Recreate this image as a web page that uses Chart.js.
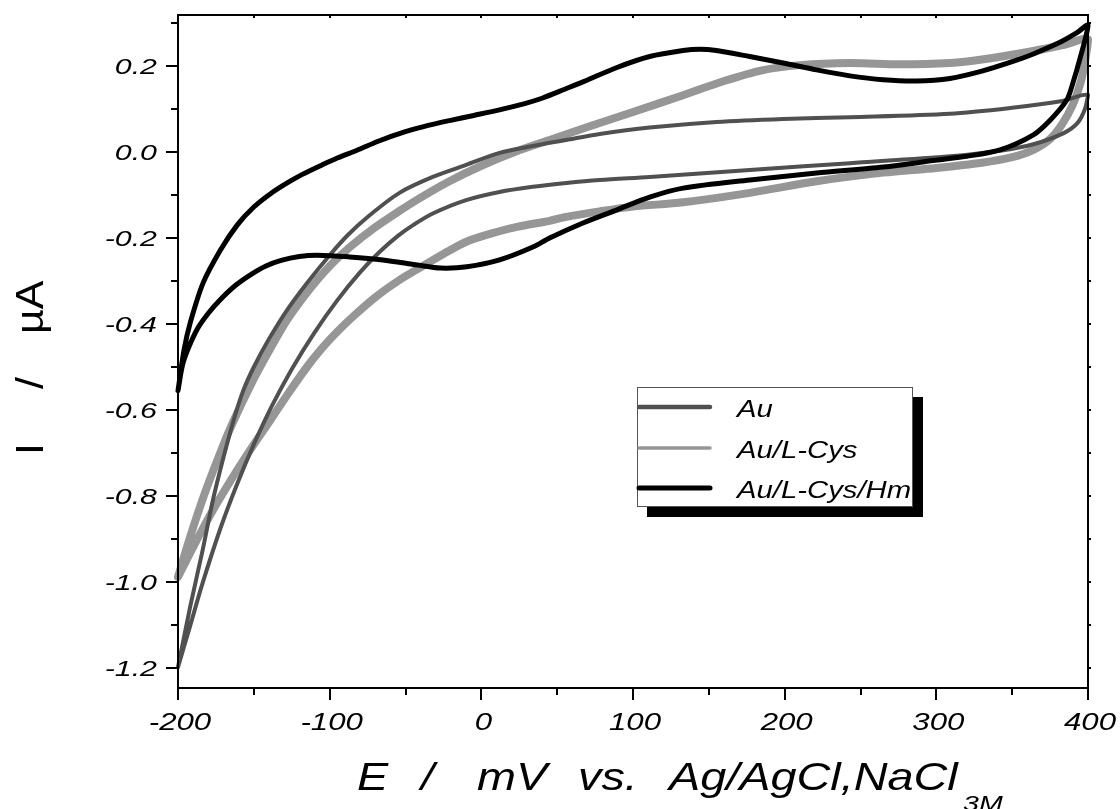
<!DOCTYPE html>
<html>
<head>
<meta charset="utf-8">
<script src="https://cdn.jsdelivr.net/npm/chart.js@4.4.1/dist/chart.umd.min.js"></script>
<style>
html,body{margin:0;padding:0;background:#fff;}
#wrap{width:1120px;height:809px;position:relative;}
</style>
</head>
<body>
<div id="wrap"><canvas id="c"></canvas></div>
<script>
// ---- series names ----
const seriesNames = ['Au', 'Au/L-Cys', 'Au/L-Cys/Hm'];

// ---- Au (forward branch then reverse branch) ----
const auE = [-200,-192,-184,-177,-170,-163,-157,-150,-140,-128,-115,-100,-88,-75,-54,-32,-10,12,34,56,78,111,155,199,243,309,350,382,400,
             398,393,384,364,342,309,243,177,111,78,56,34,12,-10,-32,-45,-55,-67,-80,-95,-110,-125,-138,-150,-161,-172,-184,-192,-200];
const auI = [-1.198,-1.058,-0.93,-0.81,-0.71,-0.62,-0.555,-0.50,-0.435,-0.367,-0.305,-0.24,-0.193,-0.151,-0.095,-0.058,-0.030,-0.002,0.014,0.028,0.042,0.057,0.070,0.077,0.081,0.089,0.103,0.118,0.133,
             0.100,0.067,0.044,0.018,0.003,-0.010,-0.026,-0.042,-0.058,-0.065,-0.072,-0.081,-0.093,-0.112,-0.143,-0.17,-0.195,-0.232,-0.28,-0.345,-0.42,-0.505,-0.59,-0.68,-0.772,-0.875,-1.005,-1.102,-1.198];

// ---- Au/L-Cys ----
const cysE = [-200,-192,-183,-174,-165,-150,-138,-128,-113,-100,-87,-70,-54,-40,-21,0,22,45,70,100,133,160,185,210,243,276,309,330,364,385,400,
              398,395,390,383,375,364,350,330,300,265,221,177,133,100,78,56,45,23.5,10,-9.5,-25,-40,-55,-70,-85,-95,-106,-115,-128,-139,-150,-161,-177,-188,-200];
const cysI = [-0.988,-0.895,-0.80,-0.716,-0.638,-0.527,-0.45,-0.39,-0.318,-0.265,-0.222,-0.175,-0.137,-0.106,-0.068,-0.032,0.0,0.028,0.058,0.093,0.132,0.165,0.19,0.202,0.207,0.204,0.207,0.215,0.235,0.25,0.262,
              0.21,0.16,0.11,0.065,0.03,0.005,-0.012,-0.025,-0.037,-0.048,-0.068,-0.095,-0.117,-0.127,-0.138,-0.151,-0.16,-0.174,-0.186,-0.208,-0.237,-0.268,-0.30,-0.338,-0.384,-0.418,-0.46,-0.50,-0.565,-0.623,-0.68,-0.74,-0.833,-0.905,-0.988];

// ---- Au/L-Cys/Hm ----
const hmE = [-200,-196,-192,-183.5,-172,-161,-150,-139,-128,-118,-105,-95,-82,-68,-54,-38,-21,-5,12,28,40,55,67,89,111,133,144,155,177,199,221,243,265,287,309,330,350,364,381.5,393,400,
             395,390,386,375,364,342,320,298,265,221,177,133,111,89,67,45,34,12,-9.5,-27,-42,-65,-87,-108,-120,-132,-142,-152,-162,-172,-180,-187,-193,-197,-200];
const hmI = [-0.555,-0.46,-0.398,-0.305,-0.228,-0.170,-0.128,-0.097,-0.072,-0.052,-0.030,-0.014,0.004,0.025,0.043,0.059,0.073,0.085,0.098,0.112,0.125,0.146,0.163,0.196,0.222,0.236,0.239,0.236,0.222,0.207,0.191,0.177,0.168,0.165,0.171,0.188,0.210,0.228,0.255,0.278,0.295,
             0.221,0.160,0.121,0.074,0.04,0.005,-0.010,-0.020,-0.035,-0.049,-0.065,-0.084,-0.105,-0.135,-0.165,-0.2,-0.221,-0.251,-0.267,-0.270,-0.263,-0.251,-0.244,-0.240,-0.243,-0.252,-0.265,-0.285,-0.31,-0.343,-0.375,-0.41,-0.455,-0.495,-0.555];

// ---- ticks ----
const xTicks = [-200,-100,0,100,200,300,400];
const xMinor = [-150,-50,50,150,250,350];
const yTicks = [0.2,0.0,-0.2,-0.4,-0.6,-0.8,-1.0,-1.2];
const yMinor = [0.3,0.1,-0.1,-0.3,-0.5,-0.7,-0.9,-1.1];
const xRange = [-200, 400];
const yRange = [-1.2465, 0.3186];

// ---- titles ----
const xTitleWords = ['E','/','mV','vs.','Ag/AgCl,NaCl'];
const xTitleSub = '3M';
const yTitleWords = ['I','/','\u00B5A'];

const toXY = (E, I) => E.map((e, i) => ({x: e, y: I[i]}));

const FONT = '"Liberation Sans", Arial, sans-serif';
function sText(ctx, txt, x, y, size, sx, align, italic) {
  ctx.save();
  ctx.font = (italic ? 'italic ' : '') + size + 'px ' + FONT;
  const w = ctx.measureText(txt).width * sx;
  let x0 = align === 'right' ? x - w : (align === 'center' ? x - w / 2 : x);
  ctx.translate(x0, y);
  ctx.scale(sx, 1);
  ctx.textAlign = 'left';
  ctx.textBaseline = 'alphabetic';
  ctx.fillStyle = '#000';
  ctx.fillText(txt, 0, 0);
  ctx.restore();
}

const decor = {
  id: 'decor',
  afterDraw(chart) {
    const ctx = chart.ctx, ca = chart.chartArea;
    const xs = chart.scales.x, ys = chart.scales.y;
    ctx.save();
    ctx.strokeStyle = '#000';
    ctx.lineWidth = 2;
    ctx.strokeRect(ca.left, ca.top, ca.right - ca.left, ca.bottom - ca.top);
    ctx.beginPath();
    xTicks.forEach(v => { const p = Math.round(xs.getPixelForValue(v)); ctx.moveTo(p, ca.bottom); ctx.lineTo(p, ca.bottom + 12); ctx.moveTo(p, ca.top); ctx.lineTo(p, ca.top + 3); });
    xMinor.forEach(v => { const p = Math.round(xs.getPixelForValue(v)); ctx.moveTo(p, ca.bottom); ctx.lineTo(p, ca.bottom + 7); ctx.moveTo(p, ca.top); ctx.lineTo(p, ca.top + 3); });
    yTicks.forEach(v => { const p = Math.round(ys.getPixelForValue(v)); ctx.moveTo(ca.left, p); ctx.lineTo(ca.left - 12, p); ctx.moveTo(ca.right, p); ctx.lineTo(ca.right + 3, p); });
    yMinor.forEach(v => { const p = Math.round(ys.getPixelForValue(v)); ctx.moveTo(ca.left, p); ctx.lineTo(ca.left - 7, p); ctx.moveTo(ca.right, p); ctx.lineTo(ca.right + 3, p); });
    ctx.stroke();
    ctx.restore();

    // tick labels
    xTicks.forEach(v => sText(ctx, String(v), xs.getPixelForValue(v) + 2, ca.bottom + 42, 24, 1.3, 'center', true));
    yTicks.forEach(v => sText(ctx, v.toFixed(1), ca.left - 21, ys.getPixelForValue(v) + 8, 22, 1.38, 'right', true));

    // x title
    const xPos = [357, 421, 477, 578, 669];
    xTitleWords.forEach((w, i) => sText(ctx, w, xPos[i], 790, 39, 1.2, 'left', true));
    sText(ctx, xTitleSub, 963, 811, 22, 1.3, 'left', true);

    // y title (rotated)
    ctx.save();
    ctx.translate(43, 455);
    ctx.rotate(-Math.PI / 2);
    const yPos = [0, 66, 121];
    yTitleWords.forEach((w, i) => sText(ctx, w, yPos[i], 0, 38, 1.13, 'left', false));
    ctx.restore();

    // legend
    ctx.save();
    ctx.fillStyle = '#000';
    ctx.fillRect(647, 397, 276, 120);
    ctx.fillStyle = '#fff';
    ctx.fillRect(637, 387, 276, 120);
    ctx.strokeStyle = '#555';
    ctx.lineWidth = 1;
    ctx.strokeRect(637.5, 387.5, 275, 119);
    const ly = [407, 448, 488];
    chart.data.datasets.forEach((d, i) => {
      ctx.beginPath();
      ctx.strokeStyle = d.borderColor;
      ctx.lineWidth = d.legendWidth;
      ctx.lineCap = 'round';
      ctx.moveTo(639, ly[i]); ctx.lineTo(710, ly[i]);
      ctx.stroke();
      sText(ctx, d.label, 737, ly[i] + 10, 24, 1.22, 'left', true);
    });
    ctx.restore();
  }
};

new Chart(document.getElementById('c'), {
  type: 'scatter',
  data: {
    datasets: [
      {label: seriesNames[0], data: toXY(auE, auI), borderColor: '#505050', borderWidth: 4, legendWidth: 4.5, order: 1},
      {label: seriesNames[1], data: toXY(cysE, cysI), borderColor: '#969696', borderWidth: 8, legendWidth: 3.5, order: 2},
      {label: seriesNames[2], data: toXY(hmE, hmI), borderColor: '#000000', borderWidth: 5, legendWidth: 5, order: 0}
    ]
  },
  options: {
    responsive: true,
    maintainAspectRatio: false,
    animation: false,
    devicePixelRatio: 1,
    layout: {padding: {top: 15, right: 32, left: 0, bottom: 0}},
    datasets: {scatter: {showLine: true, pointRadius: 0, pointHoverRadius: 0, tension: 0.3, clip: 8, borderJoinStyle: 'round', borderCapStyle: 'round'}},
    plugins: {legend: {display: false}, tooltip: {enabled: false}},
    events: [],
    scales: {
      x: {type: 'linear', min: xRange[0], max: xRange[1], grid: {display: false}, border: {display: false}, ticks: {display: false},
          afterFit: s => { s.height = 121; }},
      y: {type: 'linear', min: yRange[0], max: yRange[1], grid: {display: false}, border: {display: false}, ticks: {display: false},
          afterFit: s => { s.width = 178; }}
    }
  },
  plugins: [decor]
});
</script>
</body>
</html>
